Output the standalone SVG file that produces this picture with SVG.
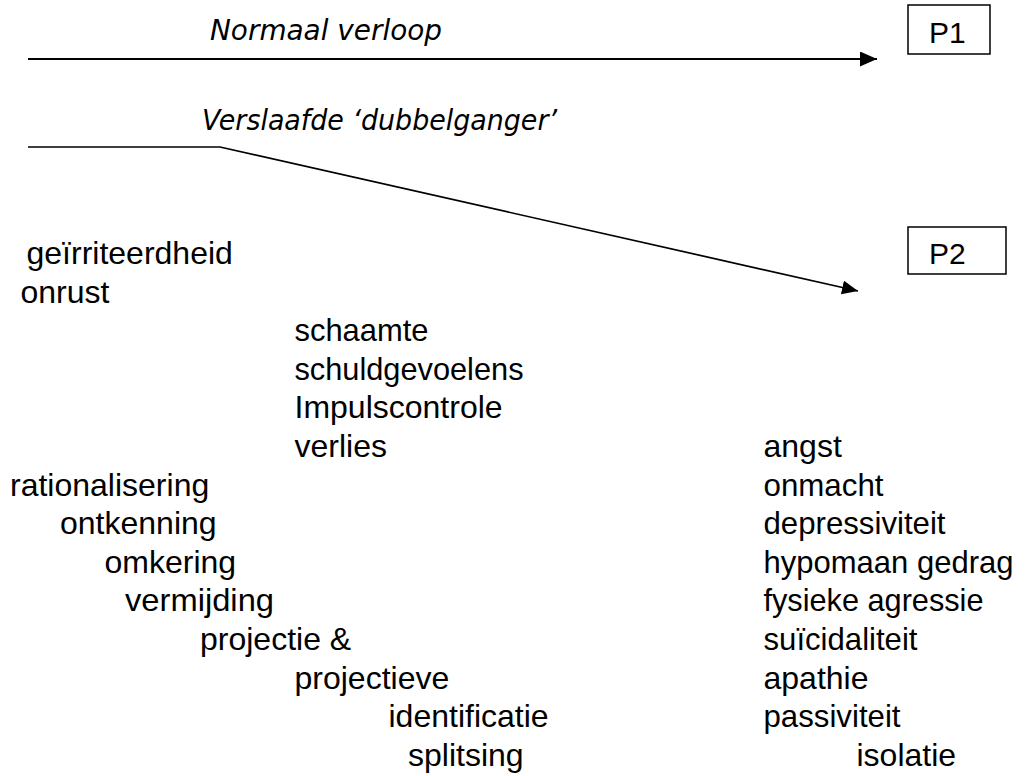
<svg xmlns="http://www.w3.org/2000/svg" width="1028" height="776" viewBox="0 0 1028 776">
<defs>
<style>
.t{font-family:"Liberation Sans",Arial,sans-serif;font-size:32px;fill:#000}
.it{font-family:"DejaVu Sans",Verdana,sans-serif;font-style:italic;font-size:27.5px;fill:#000}
.p{font-family:"Liberation Sans",Arial,sans-serif;font-size:30px;fill:#000}
.box{fill:#fff;stroke:#000;stroke-width:1.5}
.ln{fill:none;stroke:#000}
</style>
<marker id="ah" markerUnits="userSpaceOnUse" markerWidth="18" markerHeight="16" refX="17" refY="7.5" orient="auto">
<path d="M0,0 L17,7.5 L0,15 z" fill="#000"/>
</marker>
<marker id="ah2" markerUnits="userSpaceOnUse" markerWidth="17" markerHeight="15" refX="16" refY="7" orient="auto">
<path d="M0,0 L16,7 L0,14 z" fill="#000"/>
</marker>
</defs>
<rect width="1028" height="776" fill="#fff"/>
<g id="connectors">
<line class="ln" x1="28" y1="59" x2="877" y2="59" stroke-width="2" marker-end="url(#ah)"/>
<polyline class="ln" points="28,147 220,147 858,291" stroke-width="1.7" marker-end="url(#ah2)"/>
</g>
<g id="label-normaal"><text class="it" x="210" y="39.5" textLength="232" lengthAdjust="spacingAndGlyphs">Normaal verloop</text></g>
<g id="label-verslaafde"><text class="it" x="202" y="130" textLength="355" lengthAdjust="spacingAndGlyphs">Verslaafde ‘dubbelganger’</text></g>
<g id="P1"><rect class="box" x="908" y="5" width="82" height="49"/><text class="p" x="929" y="43">P1</text></g>
<g id="P2"><rect class="box" x="908" y="227" width="98" height="47"/><text class="p" x="929" y="264">P2</text></g>
<g id="left-list">
<text class="t" x="26.5" y="264">geïrriteerdheid</text>
<text class="t" x="20.5" y="302.6">onrust</text>
<text class="t" x="294.5" y="341.2" textLength="134" lengthAdjust="spacingAndGlyphs">schaamte</text>
<text class="t" x="294.5" y="379.8" textLength="229" lengthAdjust="spacingAndGlyphs">schuldgevoelens</text>
<text class="t" x="294.5" y="418.4">Impulscontrole</text>
<text class="t" x="294.5" y="457">verlies</text>
<text class="t" x="10" y="495.6">rationalisering</text>
<text class="t" x="60" y="534.2">ontkenning</text>
<text class="t" x="104.5" y="572.8">omkering</text>
<text class="t" x="125" y="611.4" textLength="149" lengthAdjust="spacingAndGlyphs">vermijding</text>
<text class="t" x="200" y="650">projectie &amp;</text>
<text class="t" x="294.5" y="688.6">projectieve</text>
<text class="t" x="388.5" y="727.2">identificatie</text>
<text class="t" x="408" y="765.8">splitsing</text>
</g>
<g id="right-list">
<text class="t" x="763.5" y="457">angst</text>
<text class="t" x="763.5" y="495.6" textLength="120" lengthAdjust="spacingAndGlyphs">onmacht</text>
<text class="t" x="763.5" y="534.2" textLength="182" lengthAdjust="spacingAndGlyphs">depressiviteit</text>
<text class="t" x="763.5" y="572.8" textLength="250" lengthAdjust="spacingAndGlyphs">hypomaan gedrag</text>
<text class="t" x="763.5" y="611.4" textLength="220" lengthAdjust="spacingAndGlyphs">fysieke agressie</text>
<text class="t" x="763.5" y="650" textLength="154" lengthAdjust="spacingAndGlyphs">suïcidaliteit</text>
<text class="t" x="763.5" y="688.6">apathie</text>
<text class="t" x="763.5" y="727.2" textLength="137" lengthAdjust="spacingAndGlyphs">passiviteit</text>
<text class="t" x="856.5" y="765.8">isolatie</text>
</g>
</svg>
